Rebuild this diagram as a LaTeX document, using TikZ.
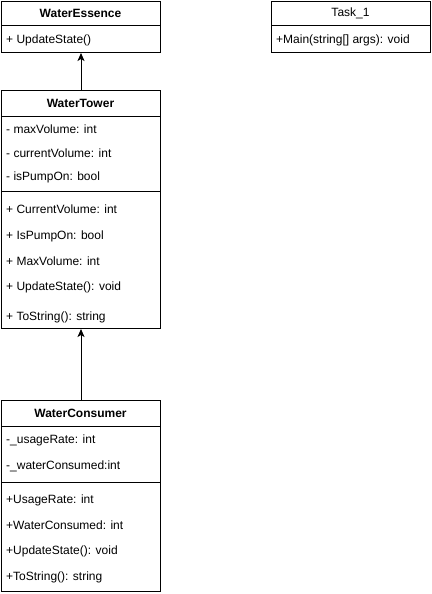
\documentclass[tikz,border=0pt]{standalone}
\usepackage{fontspec}
\setmainfont{Liberation Sans}
\usetikzlibrary{arrows.meta}
\tikzset{
  classbox/.style={draw, line width=1pt, anchor=north west, inner sep=0pt, minimum width=159pt},
  member/.style={anchor=west, inner sep=0pt},
  title/.style={inner sep=0pt},
  inherit/.style={line width=1pt, -{Stealth[length=8pt, width=7pt, inset=2pt]}}
}
\begin{document}
\begin{tikzpicture}[x=1pt, y=-1pt, font=\fontsize{12}{14}\selectfont]
  \useasboundingbox (0,0) rectangle (431,594);
  \draw
    (1,1) node[classbox, minimum height=51pt] (essence){}
    (271,1) node[classbox, minimum height=51pt] (task){}
    (1,90) node[classbox, minimum height=238pt] (tower){}
    (1,400) node[classbox, minimum height=191pt] (consumer){};
  \draw[line width=1pt]
    (1,26) -- (160,26)
    (271,26) -- (430,26)
    (1,116) -- (160,116)
    (1,191) -- (160,191)
    (1,426) -- (160,426)
    (1,482) -- (160,482);
  \draw
    (80.5,13.5) node[title] (essencename){\textbf{WaterEssence}}
    (6,40) node[member] (essenceop){+ UpdateState()}
    (350.5,13.5) node[title] (taskname){Task\_1}
    (276,40) node[member] (taskop){+Main(string[] args): void}
    (80.5,103) node[title] (towername){\textbf{WaterTower}}
    (6,129) node[member] (towera){- maxVolume: int}
    (6,153) node[member] (towerb){- currentVolume: int}
    (6,177) node[member] (towerc){- isPumpOn: bool}
    (6,209) node[member] (towerd){+ CurrentVolume: int}
    (6,236) node[member] (towere){+ IsPumpOn: bool}
    (6,261) node[member] (towerf){+ MaxVolume: int}
    (6,287) node[member] (towerg){+ UpdateState(): void}
    (6,317) node[member] (towerh){+ ToString(): string}
    (80.5,413) node[title] (consumername){\textbf{WaterConsumer}}
    (6,440) node[member] (consumera){-\_usageRate: int}
    (6,466) node[member] (consumerb){-\_waterConsumed:int}
    (6,500) node[member] (consumerc){+UsageRate: int}
    (6,525) node[member] (consumerd){+WaterConsumed: int}
    (6,551) node[member] (consumere){+UpdateState(): void}
    (6,577) node[member] (consumerf){+ToString(): string};
  \begin{scope}[inherit]
    \draw (tower.north) to (essence.south);
    \draw (consumer.north) to (tower.south);
  \end{scope}
\end{tikzpicture}
\end{document}
